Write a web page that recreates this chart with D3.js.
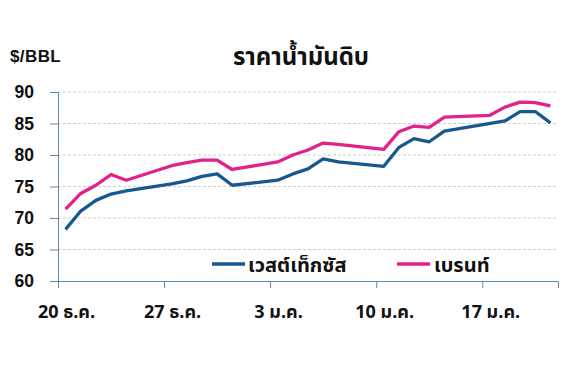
<!DOCTYPE html>
<html><head><meta charset="utf-8">
<script src="https://cdn.jsdelivr.net/npm/d3@7"></script>
<style>
body{margin:0;background:#fff;}
text{font-family:"Noto Sans Thai","Liberation Sans","DejaVu Sans",sans-serif;}
</style></head>
<body><svg id="c" width="579" height="368"></svg>
<script>
const title = "ราคาน้ำมันดิบ";
const unitLabel = "$/BBL";
const dates = ["2021-12-20","2021-12-21","2021-12-22","2021-12-23","2021-12-24","2021-12-27","2021-12-28","2021-12-29","2021-12-30","2021-12-31","2022-01-03","2022-01-04","2022-01-05","2022-01-06","2022-01-07","2022-01-10","2022-01-11","2022-01-12","2022-01-13","2022-01-14","2022-01-17","2022-01-18","2022-01-19","2022-01-20","2022-01-21"];
const wti   = [68.2,71.1,72.8,73.8,74.3,75.4,75.9,76.6,77.0,75.2,76.0,77.0,77.8,79.4,78.9,78.2,81.2,82.6,82.1,83.8,null,85.4,86.9,86.9,85.1];
const brent = [71.4,73.9,75.2,76.9,76.0,78.3,78.8,79.2,79.2,77.7,78.9,80.0,80.8,81.9,81.7,80.9,83.7,84.6,84.4,86.0,86.3,87.6,88.4,88.3,87.8];
const seriesNames = ["เวสต์เท็กซัส","เบรนท์"];
const colors = ["#17598f","#e3218a"];
const xTickDates = ["2021-12-20","2021-12-27","2022-01-03","2022-01-10","2022-01-17"];
const xTickLabels = ["20 ธ.ค.","27 ธ.ค.","3 ม.ค.","10 ม.ค.","17 ม.ค."];
const yTicks = [60,65,70,75,80,85,90];

const svg = d3.select("#c");
const parse = d3.utcParse("%Y-%m-%d");
const L = 58, R = 558, T = 92, B = 281;
const x = d3.scaleUtc().domain([parse("2021-12-20"), parse("2022-01-22")]).range([L, R]);
const y = d3.scaleLinear().domain([60, 90]).range([B, T]);
const mid = d => d3.utcHour.offset(parse(d), 12);

// gridlines
svg.append("g").selectAll("line").data(yTicks.filter(v => v > 60)).join("line")
  .attr("x1", L).attr("x2", R).attr("y1", d => y(d)).attr("y2", d => y(d))
  .attr("stroke", "#cfcfcf").attr("stroke-width", 1).attr("stroke-dasharray", "3,2");

// y axis
const yAx = svg.append("g").attr("transform", `translate(${L},0)`)
  .call(d3.axisLeft(y).tickValues(yTicks).tickSize(8).tickPadding(16));
yAx.select(".domain").attr("stroke", "#5a8bb3");
yAx.selectAll(".tick line").attr("stroke", "#5a8bb3");
yAx.selectAll(".tick text").attr("fill", "#111").style("font-size", "17.5px").style("font-weight", "bold")
  .style("font-family", "'Liberation Sans',Arial,sans-serif");

// x axis
const xAx = svg.append("g").attr("transform", `translate(0,${B})`)
  .call(d3.axisBottom(x).tickValues(xTickDates.map(parse)).tickSize(7)
    .tickFormat((d, i) => xTickLabels[i]).tickPadding(17));
xAx.select(".domain").attr("stroke", "#5a8bb3");
xAx.selectAll(".tick line").attr("stroke", "#5a8bb3");
xAx.selectAll(".tick text").attr("fill", "#111").attr("dx", 8).style("font-size", "18px").style("font-weight", "bold");

// lines
const line = d3.line().x(d => x(d.date)).y(d => y(d.v));
[wti, brent].forEach((vals, k) => {
  const pts = dates.map((d, i) => ({date: mid(d), v: vals[i]})).filter(p => p.v != null);
  svg.append("path").datum(pts).attr("d", line).attr("fill", "none")
    .attr("stroke", colors[k]).attr("stroke-width", 3.3).attr("stroke-linejoin", "round");
});

// title & unit
svg.append("text").attr("x", 301).attr("y", 65).attr("text-anchor", "middle")
  .style("font-size", "24px").style("font-weight", "bold").attr("fill", "#111").text(title);
svg.append("text").attr("x", 10).attr("y", 62)
  .style("font-size", "17px").style("font-weight", "bold").attr("fill", "#111").style("letter-spacing", "0.4px")
  .style("font-family", "'Liberation Sans',Arial,sans-serif").text(unitLabel);

// legend
const leg = [{x: 212, tx: 248}, {x: 397, tx: 434}];
leg.forEach((p, k) => {
  svg.append("line").attr("x1", p.x).attr("x2", p.x + 33).attr("y1", 264).attr("y2", 264)
    .attr("stroke", colors[k]).attr("stroke-width", 3.3);
  svg.append("text").attr("x", p.tx).attr("y", 272).style("font-size", "20px").style("font-weight", "bold")
    .attr("fill", "#111").text(seriesNames[k]);
});
</script></body></html>
